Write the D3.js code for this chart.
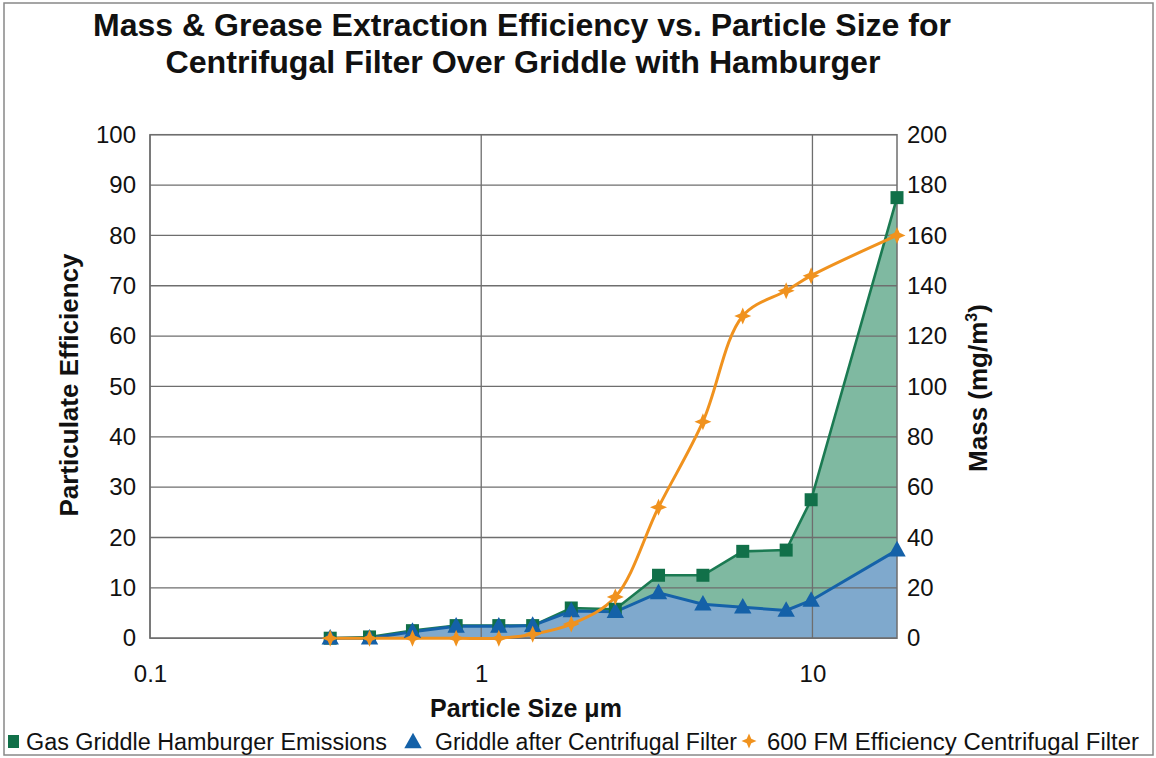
<!DOCTYPE html>
<html>
<head>
<meta charset="utf-8">
<script src="https://cdn.jsdelivr.net/npm/d3@7"></script>
<style>
  body { margin: 0; background: #fff; }
  text { font-family: "Liberation Sans", Arial, Helvetica, sans-serif; fill: #111; }
</style>
</head>
<body>
<svg width="1156" height="758"></svg>
<script>
'use strict';

// particle sizes (um)
var sizes = [0.35, 0.46, 0.62, 0.84, 1.13, 1.43, 1.87, 2.54, 3.43, 4.67, 6.16, 8.33, 9.91, 18];
// mass, mg/m3 (right axis)
var emissions = [0, 0.5, 3, 5, 5, 5, 12, 11.5, 25, 25, 34.5, 35, 55, 175];
var afterFilter = [0, 0, 2.6, 4.7, 4.7, 5, 10.8, 10.5, 18, 13.5, 12.3, 11, 15, 35];
// efficiency, % (left axis)
var efficiency = [0, 0, 0, 0, 0, 0.8, 2.8, 8.2, 26, 43, 64, 69, 72, 80];

var leftTicks = d3.range(0, 101, 10);
var rightTicks = d3.range(0, 201, 20);
var xTicks = [0.1, 1, 10];

var seriesNames = ['Gas Griddle Hamburger Emissions', 'Griddle after Centrifugal Filter', '600 FM Efficiency Centrifugal Filter'];

var svg = d3.select('svg');
var L = 150, R = 897, T = 134.7, B = 638.2;

var x = d3.scaleLog().domain([0.1, 18]).range([L, R]);
var yL = d3.scaleLinear().domain([0, 100]).range([B, T]);
var yR = d3.scaleLinear().domain([0, 200]).range([B, T]);

// outer frame
svg.append('rect').attr('x', 4).attr('y', 3).attr('width', 1149).attr('height', 752)
  .attr('fill', 'none').attr('stroke', '#888').attr('stroke-width', 1.5);

// title
svg.append('text').attr('x', 522).attr('y', 36).attr('text-anchor', 'middle')
  .attr('font-size', 31).attr('font-weight', 'bold')
  .attr('textLength', 858).attr('lengthAdjust', 'spacingAndGlyphs')
  .text('Mass & Grease Extraction Efficiency vs. Particle Size for');
svg.append('text').attr('x', 523).attr('y', 73).attr('text-anchor', 'middle')
  .attr('font-size', 31).attr('font-weight', 'bold')
  .attr('textLength', 715).attr('lengthAdjust', 'spacingAndGlyphs')
  .text('Centrifugal Filter Over Griddle with Hamburger');

// areas
var idx = d3.range(sizes.length);
svg.append('path').datum(idx)
  .attr('fill', '#7fb9a1')
  .attr('d', d3.area().x(function (i) { return x(sizes[i]); }).y0(B).y1(function (i) { return yR(emissions[i]); }));
svg.append('path').datum(idx)
  .attr('fill', '#7fa9cd')
  .attr('d', d3.area().x(function (i) { return x(sizes[i]); }).y0(B).y1(function (i) { return yR(afterFilter[i]); }));

// grid
var grid = svg.append('g').attr('stroke', '#6e6e6e').attr('stroke-width', 1.3);
grid.selectAll('line.h').data(leftTicks).enter().append('line')
  .attr('x1', L).attr('x2', R).attr('y1', function (d) { return yL(d); }).attr('y2', function (d) { return yL(d); });
grid.selectAll('line.v').data(xTicks).enter().append('line')
  .attr('x1', function (d) { return x(d); }).attr('x2', function (d) { return x(d); }).attr('y1', T).attr('y2', B);
svg.append('rect').attr('x', L).attr('y', T).attr('width', R - L).attr('height', B - T)
  .attr('fill', 'none').attr('stroke', '#6e6e6e').attr('stroke-width', 1.5);

// axes (labels only)
var axL = svg.append('g').attr('transform', 'translate(' + L + ',0)')
  .call(d3.axisLeft(yL).tickValues(leftTicks).tickSize(0).tickPadding(14));
var axR = svg.append('g').attr('transform', 'translate(' + R + ',0)')
  .call(d3.axisRight(yR).tickValues(rightTicks).tickSize(0).tickPadding(10));
var axX = svg.append('g').attr('transform', 'translate(0,' + B + ')')
  .call(d3.axisBottom(x).tickValues(xTicks).tickFormat(d3.format('')).tickSize(0).tickPadding(27));
[axL, axR, axX].forEach(function (a) {
  a.select('.domain').remove();
  a.selectAll('text').attr('font-size', 24).attr('fill', '#111')
    .attr('font-family', '"Liberation Sans", Arial, sans-serif');
});

// axis titles
svg.append('text').attr('transform', 'translate(78,385) rotate(-90)').attr('text-anchor', 'middle')
  .attr('font-size', 26).attr('font-weight', 'bold').text('Particulate Efficiency');
var mt = svg.append('text').attr('transform', 'translate(987,388) rotate(-90)').attr('text-anchor', 'middle')
  .attr('font-size', 26).attr('font-weight', 'bold');
mt.append('tspan').text('Mass (mg/m');
mt.append('tspan').attr('font-size', 16).attr('dy', -10).text('3');
mt.append('tspan').attr('dy', 10).text(')');
svg.append('text').attr('x', 526).attr('y', 717).attr('text-anchor', 'middle')
  .attr('font-size', 25).attr('font-weight', 'bold').text('Particle Size μm');

// lines
var lineR = function (vals) {
  return d3.line().x(function (i) { return x(sizes[i]); }).y(function (i) { return yR(vals[i]); });
};
svg.append('path').datum(idx).attr('fill', 'none').attr('stroke', '#1b7a52').attr('stroke-width', 2.6)
  .attr('d', lineR(emissions));
svg.append('path').datum(idx).attr('fill', 'none').attr('stroke', '#1562a9').attr('stroke-width', 3)
  .attr('d', lineR(afterFilter));
svg.append('path').datum(idx).attr('fill', 'none').attr('stroke', '#f0921e').attr('stroke-width', 3)
  .attr('d', d3.line().curve(d3.curveCatmullRom.alpha(0.5))
    .x(function (i) { return x(sizes[i]); }).y(function (i) { return yL(efficiency[i]); }));

// markers
var star4 = function (r) {
  var q = r * 0.3;
  return 'M0,' + (-r) + 'L' + q + ',' + (-q) + 'L' + r + ',0L' + q + ',' + q +
    'L0,' + r + 'L' + (-q) + ',' + q + 'L' + (-r) + ',0L' + (-q) + ',' + (-q) + 'Z';
};
var tri = function (s) {
  return 'M0,' + (-s * 0.62) + 'L' + (s * 0.58) + ',' + (s * 0.42) + 'L' + (-s * 0.58) + ',' + (s * 0.42) + 'Z';
};

svg.append('g').selectAll('rect').data(idx).enter().append('rect')
  .attr('x', function (i) { return x(sizes[i]) - 6.5; }).attr('y', function (i) { return yR(emissions[i]) - 6.5; })
  .attr('width', 13).attr('height', 13).attr('fill', '#117049');
svg.append('g').selectAll('path').data(idx).enter().append('path')
  .attr('transform', function (i) { return 'translate(' + x(sizes[i]) + ',' + yR(afterFilter[i]) + ')'; })
  .attr('d', tri(15)).attr('fill', '#1461a8');
svg.append('g').selectAll('path').data(idx).enter().append('path')
  .attr('transform', function (i) { return 'translate(' + x(sizes[i]) + ',' + yL(efficiency[i]) + ')'; })
  .attr('d', star4(8.5)).attr('fill', '#f0921e');

// legend
var lg = svg.append('g');
lg.append('rect').attr('x', 8).attr('y', 735).attr('width', 11).attr('height', 13).attr('fill', '#117049');
lg.append('text').attr('x', 26).attr('y', 750).attr('font-size', 23.5)
  .attr('textLength', 361).attr('lengthAdjust', 'spacingAndGlyphs').text(seriesNames[0]);
lg.append('path').attr('transform', 'translate(413,742)').attr('d', tri(15)).attr('fill', '#1461a8');
lg.append('text').attr('x', 435).attr('y', 750).attr('font-size', 23.5)
  .attr('textLength', 302).attr('lengthAdjust', 'spacingAndGlyphs').text(seriesNames[1]);
lg.append('path').attr('transform', 'translate(749,741)').attr('d', star4(7.5)).attr('fill', '#f0921e');
lg.append('text').attr('x', 767).attr('y', 750).attr('font-size', 23.5)
  .attr('textLength', 372).attr('lengthAdjust', 'spacingAndGlyphs').text(seriesNames[2]);
</script>
</body>
</html>
